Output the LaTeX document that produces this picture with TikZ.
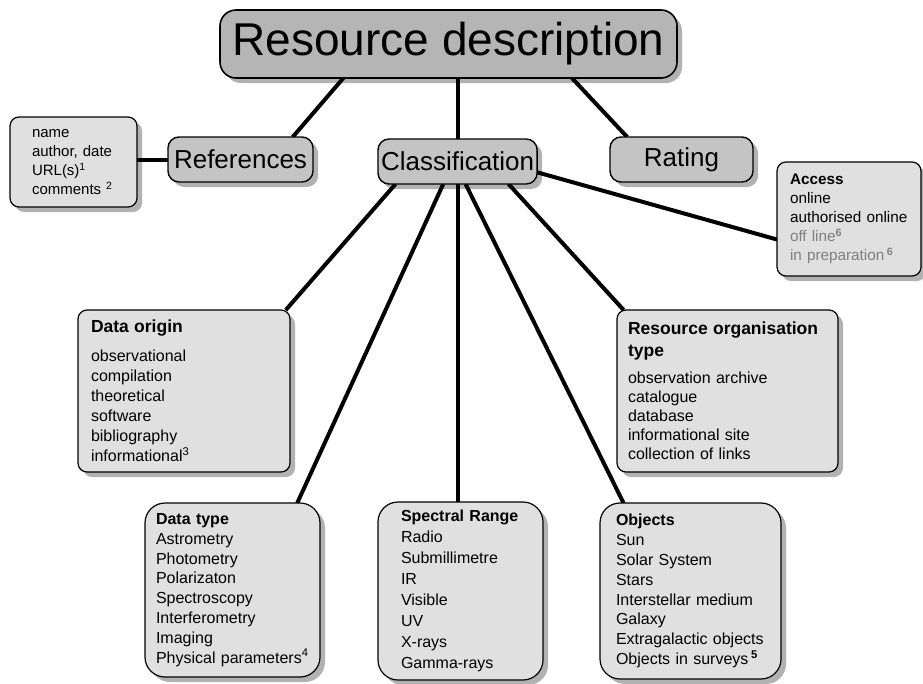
\documentclass[tikz,border=0pt]{standalone}
\usepackage{fontspec}
\setmainfont{Liberation Sans}
\usetikzlibrary{backgrounds, calc, shadows}

\definecolor{titlegray}{gray}{0.71}
\definecolor{topicgray}{gray}{0.77}
\definecolor{listgray}{gray}{0.88}
\definecolor{fadedgray}{gray}{0.50}

\begin{document}
\begin{tikzpicture}[x=1pt, y=-1pt]
\tikzset{every node/.style={outer sep=0pt, anchor=north west}}

\tikzstyle{boxshadow}=[drop shadow={shadow xshift=5pt, shadow yshift=-5pt, fill=black, opacity=.3}]
\tikzstyle{main topic}=[rectangle, rounded corners=16pt, draw=black, line width=1.6pt, fill=titlegray, boxshadow, minimum width=457pt, minimum height=68pt, inner xsep=3pt, font=\fontsize{46}{50}\selectfont]
\tikzstyle{sub topic}=[rectangle, rounded corners=11pt, draw=black, line width=1.4pt, fill=topicgray, boxshadow, minimum height=45pt, inner xsep=3pt, font=\fontsize{26}{30}\selectfont]
\tikzstyle{item list}=[rectangle, rounded corners=9pt, draw=black, line width=1.2pt, fill=listgray, boxshadow, align=left, font=\fontsize{16}{19.8}\selectfont]
\tikzstyle{round list}=[item list, rounded corners=20pt]
\tikzstyle{link}=[line width=4pt, black]

\useasboundingbox (0,0) rectangle (923,683);

\node[main topic] (resource description) at (220,10) {Resource description};

\node[sub topic, minimum width=145pt] (references) at (168,137) {References};
\node[sub topic, minimum width=159pt] (classification) at (378,139) {Classification};
\node[sub topic, minimum width=143pt] (rating) at (610,137) {Rating};

\node[item list, minimum width=127pt, minimum height=90pt, text width=83pt, inner xsep=22pt, font=\fontsize{15}{19}\selectfont] (reference list) at (10,117) {name\\ author, date\\ URL(s)\textsuperscript{1}\\ comments \textsuperscript{2}};

\node[item list, minimum width=144pt, minimum height=114pt, text width=118pt, inner xsep=13pt, font=\fontsize{15.3}{19}\selectfont] (access list) at (777,162) {\textbf{Access}\\ online\\ authorised online\\ \textcolor{fadedgray}{off line\textsuperscript{\textbf{6}}}\\ \textcolor{fadedgray}{in preparation\,\textsuperscript{\textbf{6}}}};

\node[item list, minimum width=212pt, minimum height=162pt, text width=186pt, inner xsep=13pt, font=\fontsize{16}{20}\selectfont] (data origin) at (78,310) {{\fontsize{17.5}{20}\selectfont\bfseries Data origin}\\[9pt] observational\\ compilation\\ theoretical\\ software\\ bibliography\\ informational\textsuperscript{3}};

\node[item list, minimum width=221pt, minimum height=162pt, text width=199pt, inner xsep=11pt, font=\fontsize{16}{19}\selectfont] (organisation type) at (617,310) {{\fontsize{17.5}{19}\selectfont\bfseries Resource organisation}\\[3pt] {\fontsize{17.5}{19}\selectfont\bfseries type}\\[8pt] observation archive\\ catalogue\\ database\\ informational site\\ collection of links};

\node[round list, minimum width=175pt, minimum height=174pt, text width=153pt, inner xsep=11pt] (data type) at (145,503) {\textbf{Data type}\\ Astrometry\\ Photometry\\ Polarizaton\\ Spectroscopy\\ Interferometry\\ Imaging\\ Physical parameters\textsuperscript{4}};

\node[round list, minimum width=165pt, minimum height=178pt, text width=119pt, inner xsep=23pt, font=\fontsize{16}{21}\selectfont] (spectral range) at (378,502) {\textbf{Spectral Range}\\ Radio\\ Submillimetre\\ IR\\ Visible\\ UV\\ X-rays\\ Gamma-rays};

\node[round list, minimum width=181pt, minimum height=176pt, text width=149pt, inner xsep=16pt] (objects) at (600,503) {\textbf{Objects}\\ Sun\\ Solar System\\ Stars\\ Interstellar medium\\ Galaxy\\ Extragalactic objects\\ Objects in surveys\,\textsuperscript{\textbf{5}}};

% connectors
\begin{scope}[on background layer]
    \draw[link] ($(resource description.south west)!.27!(resource description.south east)$) -- ($(references.north west)!.86!(references.north east)$);
    \draw[link] (classification.north) -- (classification.north |- resource description.south);
    \draw[link] ($(resource description.south west)!.77!(resource description.south east)$) -- ($(rating.north west)!.12!(rating.north east)$);
    \draw[link] (reference list.east |- references.west) -- (references.west);
    \draw[link] ($(classification.north east)!.74!(classification.south east)$) -- ($(access list.north west)!.68!(access list.south west)$);
    \draw[link] ($(classification.south west)!.11!(classification.south east)$) -- ($(data origin.north west)!.98!(data origin.north east)$);
    \draw[link] ($(classification.south west)!.41!(classification.south east)$) -- ($(data type.north west)!.87!(data type.north east)$);
    \draw[link] (classification.south) -- (classification.south |- spectral range.north);
    \draw[link] ($(classification.south west)!.55!(classification.south east)$) -- ($(objects.north west)!.13!(objects.north east)$);
    \draw[link] ($(classification.south west)!.82!(classification.south east)$) -- ($(organisation type.north west)!.03!(organisation type.north east)$);
\end{scope}

\end{tikzpicture}
\end{document}
